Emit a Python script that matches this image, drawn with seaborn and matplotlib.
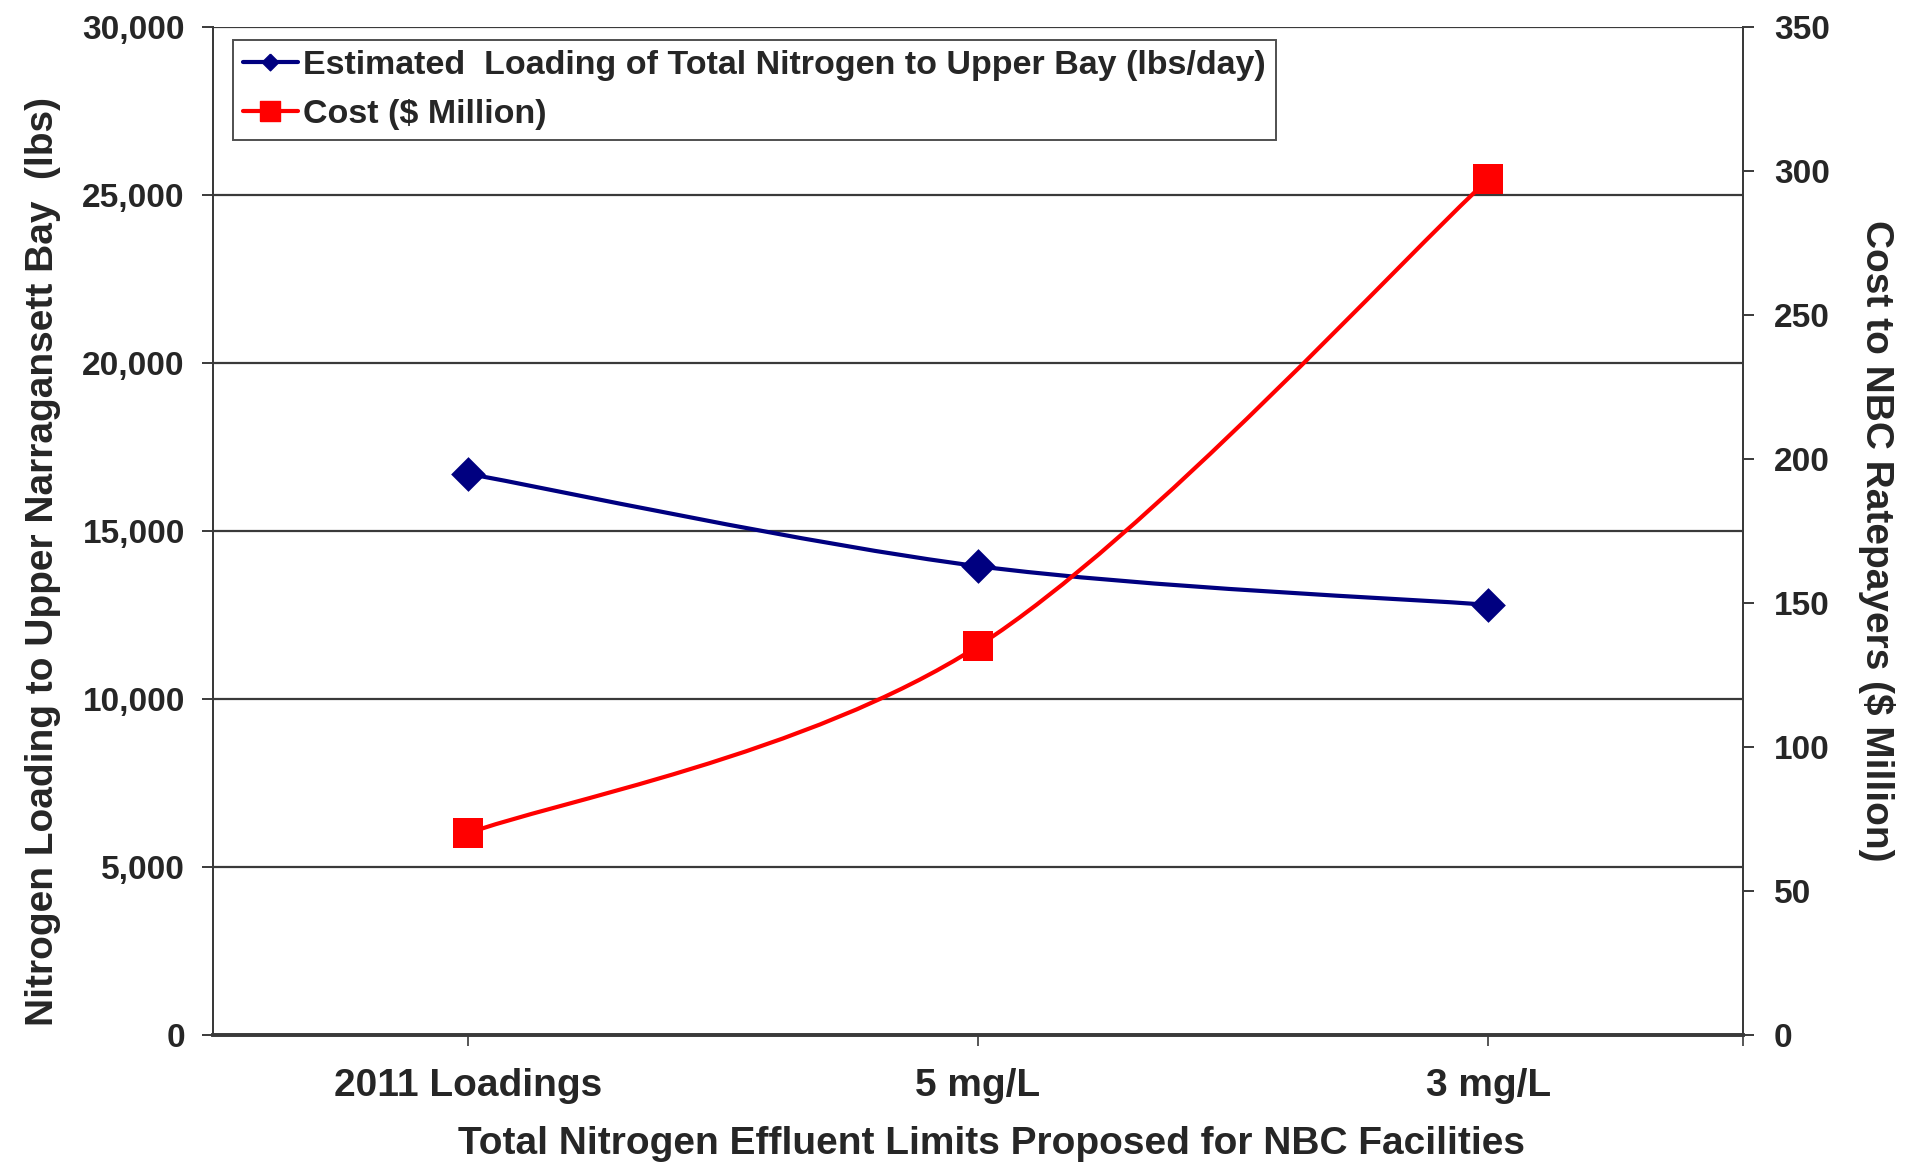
import numpy as np
import matplotlib
matplotlib.use("Agg")
import matplotlib.pyplot as plt
import seaborn as sns
from matplotlib.path import Path
from matplotlib.patches import PathPatch
from matplotlib.lines import Line2D
from matplotlib.ticker import FuncFormatter

# data
categories = ["2011 Loadings", "5 mg/L", "3 mg/L"]
nitrogen_lbs = [16700, 13950, 12800]
cost_million = [70, 135, 297]

left_ticks = [0, 5000, 10000, 15000, 20000, 25000, 30000]
right_ticks = [0, 50, 100, 150, 200, 250, 300, 350]

BLUE = "#000080"
RED = "#FF0000"

sns.set_style("white")
plt.rcParams["font.family"] = ["Liberation Sans", "DejaVu Sans"]
plt.rcParams["font.weight"] = "bold"


def smooth_path(xs, ys):
    # Excel-like smoothed line: cubic bezier through every point
    pts = np.column_stack([xs, ys]).astype(float)
    ext = np.vstack([pts[0], pts, pts[-1]])
    verts = [pts[0]]
    codes = [Path.MOVETO]
    for i in range(len(pts) - 1):
        p0, p1, p2, p3 = ext[i], ext[i + 1], ext[i + 2], ext[i + 3]
        verts += [p1 + (p2 - p0) / 6, p2 - (p3 - p1) / 6, p2]
        codes += [Path.CURVE4] * 3
    return Path(verts, codes)


diamond = [(0, 1), (1, 0), (0, -1), (-1, 0), (0, 1)]
square = [(-1, -1), (1, -1), (1, 1), (-1, 1), (-1, -1)]

fig = plt.figure(figsize=(19.05, 11.66), dpi=100)
ax = fig.add_axes([0.1116, 0.1123, 0.8036, 0.8648])
ax2 = ax.twinx()

x = np.arange(len(categories))

# curves
ax.add_patch(PathPatch(smooth_path(x, nitrogen_lbs), fill=False, edgecolor=BLUE, lw=3.0, zorder=3))
ax2.add_patch(PathPatch(smooth_path(x, cost_million), fill=False, edgecolor=RED, lw=3.0, zorder=3))

# markers
sns.scatterplot(x=x, y=nitrogen_lbs, ax=ax, marker=diamond, s=25 ** 2, color=BLUE,
                edgecolor=BLUE, linewidth=0, zorder=4, legend=False)
sns.scatterplot(x=x, y=cost_million, ax=ax2, marker=square, s=21.5 ** 2, color=RED,
                edgecolor=RED, linewidth=0, zorder=4, legend=False)

ax.set_xlim(-0.5, 2.5)
ax.set_ylim(0, 30000)
ax2.set_ylim(0, 350)

ax.set_yticks(left_ticks)
ax.yaxis.set_major_formatter(FuncFormatter(lambda v, p: f"{int(v):,}"))
ax2.set_yticks(right_ticks)
ax.set_xticks(x)
ax.set_xticklabels(categories)
ax.set_xticks([2.5], minor=True)

ax.grid(axis="y", color="#3a3a3a", lw=1.6)
ax.grid(axis="x", visible=False)
ax2.grid(False)

for a in (ax, ax2):
    for side in ("left", "right", "top"):
        a.spines[side].set_color("#3a3a3a")
        a.spines[side].set_linewidth(1.4)
    a.spines["bottom"].set_color("#3a3a3a")
    a.spines["bottom"].set_linewidth(2.6)
    a.spines["top"].set_visible(False)

ax.tick_params(axis="y", direction="out", length=8, width=1.4, color="#3a3a3a",
               labelsize=24, pad=12, left=True)
ax.tick_params(axis="x", which="both", direction="out", length=8, width=1.2, color="#3a3a3a",
               labelsize=28, pad=16, bottom=True)
ax2.tick_params(axis="y", direction="out", length=8, width=1.4, color="#3a3a3a",
                labelsize=24, pad=14, right=True)

ax.set_xlabel("Total Nitrogen Effluent Limits Proposed for NBC Facilities",
              fontsize=28, fontweight="bold")
ax.xaxis.set_label_coords(0.509, -0.108)
ax.xaxis.label.set_va("center")

ax.set_ylabel("Nitrogen Loading to Upper Narragansett Bay  (lbs)", fontsize=28, fontweight="bold")
ax.yaxis.set_label_coords(-0.111, 0.47)
ax.yaxis.label.set_va("center")

ax2.set_ylabel("Cost to NBC Ratepayers ($ Million)", fontsize=28, fontweight="bold",
               rotation=270)
ax2.yaxis.set_label_coords(1.087, 0.49)
ax2.yaxis.label.set_va("center")

handles = [
    Line2D([], [], color=BLUE, lw=3.0, marker=diamond, markersize=12),
    Line2D([], [], color=RED, lw=3.0, marker=square, markersize=14),
]
labels = ["Estimated  Loading of Total Nitrogen to Upper Bay (lbs/day)", "Cost ($ Million)"]
leg = ax2.legend(handles, labels, loc="upper left", bbox_to_anchor=(0.0133, 0.9868),
                 borderaxespad=0, frameon=True, fancybox=False,
                 handlelength=1.6, handletextpad=0.15, borderpad=0.3, labelspacing=0.52,
                 prop={"weight": "bold", "size": 24.5})
leg.get_frame().set_edgecolor("#222222")
leg.get_frame().set_linewidth(1.4)

fig.savefig("out.png", dpi=100)
